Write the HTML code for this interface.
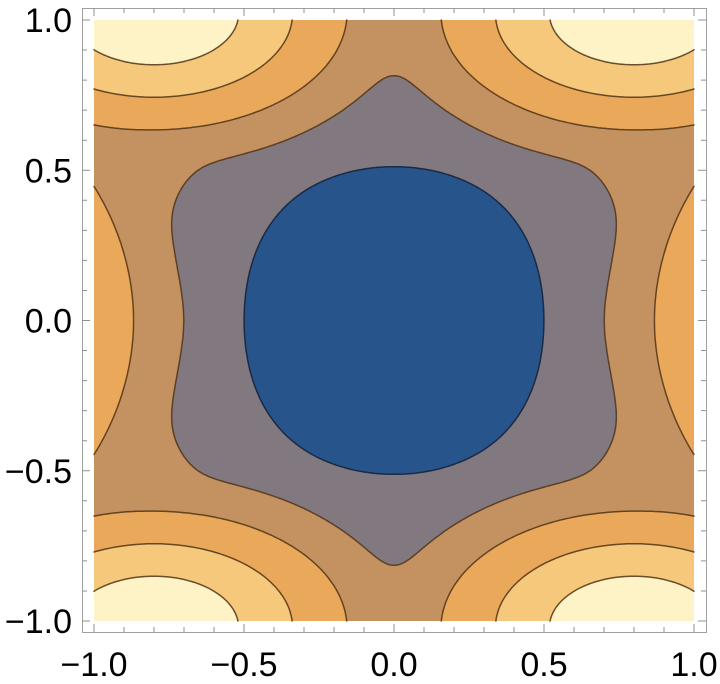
<!DOCTYPE html>
<html><head><meta charset="utf-8">
<style>
html,body{margin:0;padding:0;background:#fff;}
#wrap{position:relative;width:720px;height:684px;overflow:hidden;font-family:"Liberation Sans",sans-serif;}
canvas{position:absolute;left:94px;top:20px;}
svg{position:absolute;left:0;top:0;}
</style></head>
<body>
<div id="wrap">
<canvas id="cv" width="600" height="601"></canvas>
<svg id="sv" width="720" height="684"></svg>
</div>
<script>
// ---- data ----
const levels = [1, 2, 3, 4, 5];
const bandColors = ["#28548c", "#817880", "#c49160", "#eaa85a", "#f5c87c", "#fef3c6"];
const cornerSites = [[0.8, 1.02], [-0.8, 1.02], [0.8, -1.02], [-0.8, -1.02]];
const sideSites = [[1.68, 0], [-1.68, 0]];
const innerRadius = 0.515;
const gapRadius = 0.78, gapRipple = 0.05;
const plateau = 2.8;
const cornerXScale = 0.6;
const cornerR3 = 0.385, cornerWidth = 0.108;
const sideR3 = 0.81, sideWidth = 0.145;
const xTicks = [-1.0, -0.5, 0.0, 0.5, 1.0];
const yTicks = [-1.0, -0.5, 0.0, 0.5, 1.0];
const xTickLabels = ["\u22121.0", "\u22120.5", "0.0", "0.5", "1.0"];
const yTickLabels = ["\u22121.0", "\u22120.5", "0.0", "0.5", "1.0"];

// ---- axes ----
const PX0 = 94, PX1 = 694, PY0 = 20, PY1 = 621;
const sx = v => PX0 + (v + 1) / 2 * (PX1 - PX0);
const sy = v => PY1 - (v + 1) / 2 * (PY1 - PY0);

function smax(a, k) { let m = Math.max(...a); let s = 0; for (const v of a) s += Math.exp(k * (v - m)); return m + Math.log(s) / k; }
function F(x, y) {
  const r0 = Math.hypot(x, y), th = Math.atan2(y, x);
  const r = r0 * (1 + 0.018 * Math.cos(4 * th) + 0.012 * Math.cos(2 * th));
  const R2 = gapRadius - gapRipple * Math.cos(6 * th);
  let f0 = 1 + (r - innerRadius) / (R2 - innerRadius);
  f0 = -smax([-f0, -plateau], 10);
  const vals = [f0];
  for (const c of cornerSites) vals.push(3 + (cornerR3 - Math.hypot((x - c[0]) * cornerXScale, y - c[1])) / cornerWidth);
  for (const c of sideSites) vals.push(3 + (sideR3 - Math.hypot(x - c[0], y - c[1])) / sideWidth);
  return smax(vals, 8);
}
function band(v) { let b = 0; for (const L of levels) if (v > L) b++; return b; }
function hex(c) { return [parseInt(c.substr(1, 2), 16), parseInt(c.substr(3, 2), 16), parseInt(c.substr(5, 2), 16)]; }

// ---- fill ----
const cv = document.getElementById('cv'), ctx = cv.getContext('2d');
const img = ctx.createImageData(600, 601);
const rgb = bandColors.map(hex);
for (let j = 0; j < 601; j++) {
  const y = 1 - 2 * (j + 0.5) / 601;
  for (let i = 0; i < 600; i++) {
    const x = -1 + 2 * (i + 0.5) / 600;
    const c = rgb[band(F(x, y))];
    const o = (j * 600 + i) * 4;
    img.data[o] = c[0]; img.data[o + 1] = c[1]; img.data[o + 2] = c[2]; img.data[o + 3] = 255;
  }
}
ctx.putImageData(img, 0, 0);

// ---- svg ----
const NS = "http://www.w3.org/2000/svg";
const sv = document.getElementById('sv');
function mk(tag, attrs) { const e = document.createElementNS(NS, tag); for (const k in attrs) e.setAttribute(k, attrs[k]); sv.appendChild(e); return e; }

// contour lines (marching squares)
const N = 200;
const grid = [];
for (let j = 0; j <= N; j++) { grid.push([]); for (let i = 0; i <= N; i++) grid[j].push(F(-1 + 2 * i / N, -1 + 2 * j / N)); }
levels.forEach((L, li) => {
  let d = "";
  for (let j = 0; j < N; j++) for (let i = 0; i < N; i++) {
    const x0 = -1 + 2 * i / N, x1 = -1 + 2 * (i + 1) / N, y0 = -1 + 2 * j / N, y1 = -1 + 2 * (j + 1) / N;
    const a = grid[j][i], b = grid[j][i + 1], c = grid[j + 1][i + 1], e = grid[j + 1][i];
    const pts = [];
    if ((a > L) !== (b > L)) pts.push([x0 + (L - a) / (b - a) * (x1 - x0), y0]);
    if ((b > L) !== (c > L)) pts.push([x1, y0 + (L - b) / (c - b) * (y1 - y0)]);
    if ((c > L) !== (e > L)) pts.push([x1 + (L - c) / (e - c) * (x0 - x1), y1]);
    if ((e > L) !== (a > L)) pts.push([x0, y1 + (L - e) / (a - e) * (y0 - y1)]);
    for (let k = 0; k + 1 < pts.length; k += 2)
      d += "M" + sx(pts[k][0]).toFixed(1) + " " + sy(pts[k][1]).toFixed(1) + "L" + sx(pts[k + 1][0]).toFixed(1) + " " + sy(pts[k + 1][1]).toFixed(1);
  }
  const p = mk('path', { d: d, fill: 'none', stroke: li === 0 ? 'rgba(20,35,60,0.9)' : 'rgba(80,52,22,0.85)', 'stroke-width': 1.5, 'stroke-linecap': 'round' });
  
  
});

// frame
const fr = mk('rect', { x: 82.5, y: 8.5, width: 624, height: 624, fill: 'none', stroke: '#a0a0a0', 'stroke-width': 1 });



// ticks
let td = "";
for (let k = -10; k <= 10; k++) {
  const v = k / 10, major = k % 5 === 0, len = major ? 8 : 5;
  const X = sx(v), Y = sy(v);
  td += `M${X} 632L${X} ${632 - len}M${X} 8L${X} ${8 + len}`;
  td += `M82 ${Y}L${82 + len} ${Y}M706 ${Y}L${706 - len} ${Y}`;
}
const tk = mk('path', { d: td, stroke: '#909090', 'stroke-width': 1, fill: 'none' });



xTicks.forEach((v, i) => {
  const t = mk('text', { x: sx(v), y: 676, 'text-anchor': 'middle', 'font-size': 34, fill: '#000', 'font-family': 'Liberation Sans, sans-serif' });
  t.textContent = xTickLabels[i];
  
  
});
yTicks.forEach((v, i) => {
  const t = mk('text', { x: 72, y: sy(v) + 12, 'text-anchor': 'end', 'font-size': 34, fill: '#000', 'font-family': 'Liberation Sans, sans-serif' });
  t.textContent = yTickLabels[i];
  
  
});
</script>
</body></html>
